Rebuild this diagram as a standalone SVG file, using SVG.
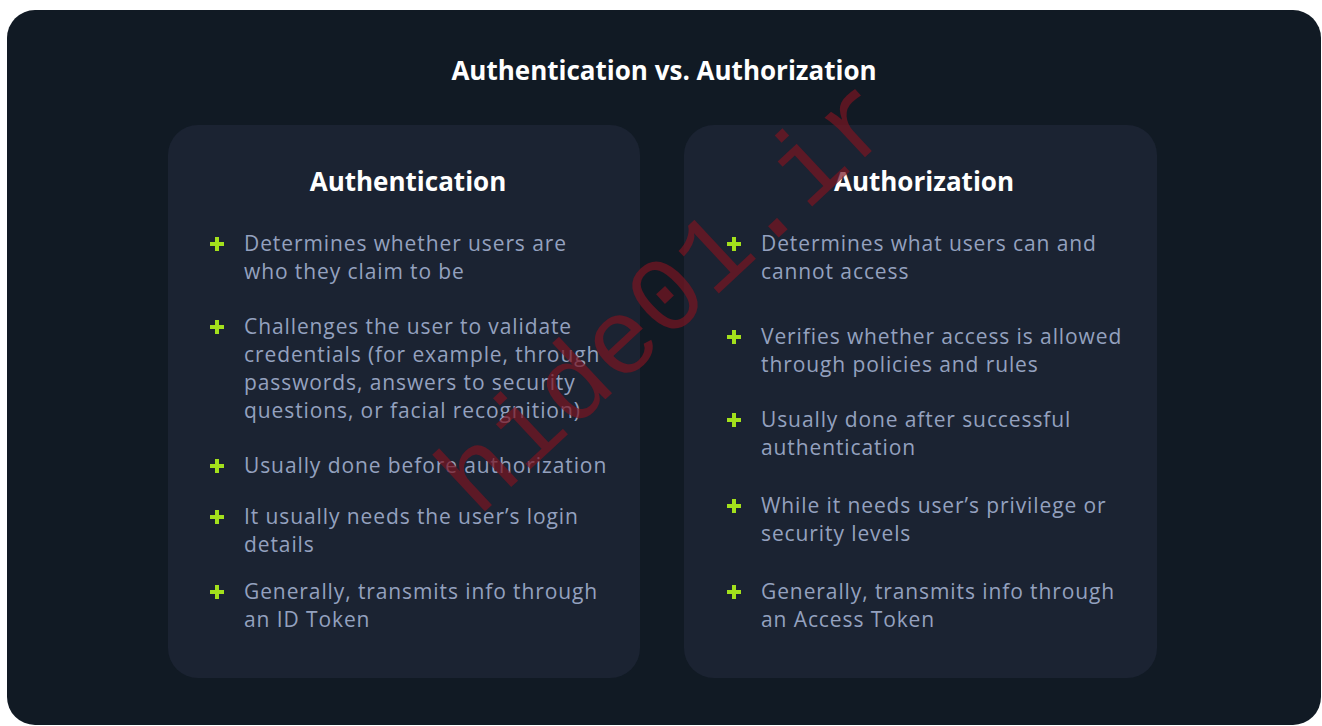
<svg xmlns="http://www.w3.org/2000/svg" width="1322" height="726" viewBox="0 0 1322 726">
  <defs>
    <style>
      .title { font-family: "Open Sans", "Liberation Sans", sans-serif; font-weight: 700; font-size: 26px; fill: #ffffff; }
      .head { font-family: "Open Sans", "Liberation Sans", sans-serif; font-weight: 700; font-size: 26px; fill: #ffffff; }
      .body { font-family: "Open Sans", "Liberation Sans", sans-serif; font-size: 21px; fill: #94a1bf; letter-spacing: 0.9px; }
      .card { fill: #1b2332; }
      .plus { fill: #a3e01c; }
      .wm { font-family: "Liberation Mono", monospace; font-size: 107px; fill: #7a1522; opacity: 0.7; }
    </style>
    <path id="plus" class="plus" d="M-2,-7 H2 V-2 H7 V2 H2 V7 H-2 V2 H-7 V-2 H-2 Z"/>
  </defs>
  <rect x="0" y="0" width="1322" height="726" fill="#ffffff"/>
  <rect x="7" y="10" width="1314" height="715" rx="28" fill="#111a24"/>
  <text class="title" x="664" y="80" text-anchor="middle">Authentication vs. Authorization</text>

  <g id="authentication">
    <rect class="card" x="168" y="125" width="472" height="553" rx="30"/>
    <text class="head" x="408" y="191" text-anchor="middle">Authentication</text>
    <use href="#plus" x="217" y="244"/>
    <text class="body" x="244" y="251">Determines whether users are</text>
    <text class="body" x="244" y="279">who they claim to be</text>
    <use href="#plus" x="217" y="327"/>
    <text class="body" x="244" y="334">Challenges the user to validate</text>
    <text class="body" x="244" y="362">credentials (for example, through</text>
    <text class="body" x="244" y="390">passwords, answers to security</text>
    <text class="body" x="244" y="418">questions, or facial recognition)</text>
    <use href="#plus" x="217" y="466"/>
    <text class="body" x="244" y="473">Usually done before authorization</text>
    <use href="#plus" x="217" y="517"/>
    <text class="body" x="244" y="524">It usually needs the user’s login</text>
    <text class="body" x="244" y="552">details</text>
    <use href="#plus" x="217" y="592"/>
    <text class="body" x="244" y="599">Generally, transmits info through</text>
    <text class="body" x="244" y="627">an ID Token</text>
  </g>

  <g id="authorization">
    <rect class="card" x="684" y="125" width="473" height="553" rx="30"/>
    <text class="head" x="924" y="191" text-anchor="middle">Authorization</text>
    <use href="#plus" x="734" y="244"/>
    <text class="body" x="761" y="251">Determines what users can and</text>
    <text class="body" x="761" y="279">cannot access</text>
    <use href="#plus" x="734" y="337"/>
    <text class="body" x="761" y="344">Verifies whether access is allowed</text>
    <text class="body" x="761" y="372">through policies and rules</text>
    <use href="#plus" x="734" y="420"/>
    <text class="body" x="761" y="427">Usually done after successful</text>
    <text class="body" x="761" y="455">authentication</text>
    <use href="#plus" x="734" y="506"/>
    <text class="body" x="761" y="513">While it needs user’s privilege or</text>
    <text class="body" x="761" y="541">security levels</text>
    <use href="#plus" x="734" y="592"/>
    <text class="body" x="761" y="599">Generally, transmits info through</text>
    <text class="body" x="761" y="627">an Access Token</text>
  </g>

  <g id="connectors"/>

  <text class="wm" x="478" y="518" transform="rotate(-43 478 518)">hide01.ir</text>
</svg>
